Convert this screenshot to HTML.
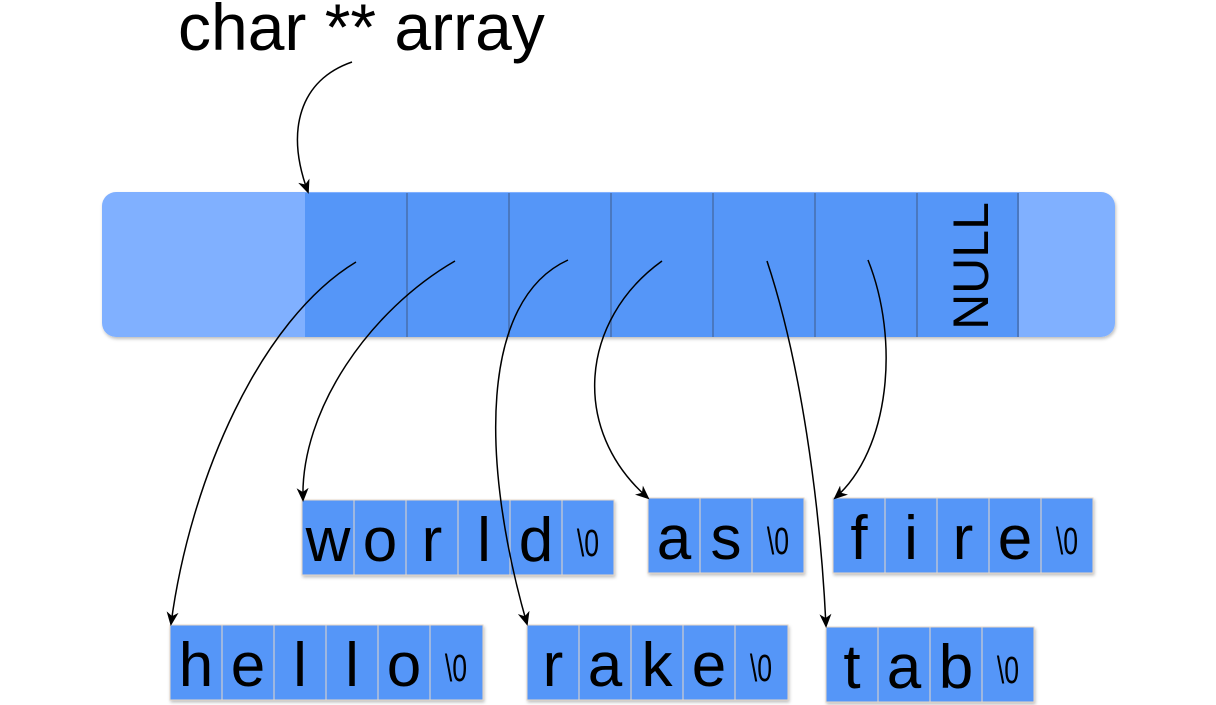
<!DOCTYPE html>
<html><head><meta charset="utf-8"><style>
html,body{margin:0;padding:0;background:#fff;width:1216px;height:705px;overflow:hidden}
svg text{font-family:"Liberation Sans",sans-serif;fill:#000}
.c{fill:#5596f8;stroke:#e8d8c8;stroke-width:1}
.l{font-size:62px;text-anchor:middle}
.z{font-size:38px;text-anchor:middle}
.a{fill:none;stroke:#000;stroke-width:1.5}
</style></head><body>
<svg width="1216" height="705" xmlns="http://www.w3.org/2000/svg">
<defs>
<marker id="m" markerWidth="14" markerHeight="12" refX="12" refY="6" orient="auto" markerUnits="userSpaceOnUse"><path d="M0,0 L14,6 L0,12 L4,6 z" fill="#000"/></marker>
<filter id="s" x="-5%" y="-5%" width="110%" height="120%"><feDropShadow dx="1" dy="2" stdDeviation="1.5" flood-color="#000" flood-opacity="0.25"/></filter>
</defs>
<text x="178" y="50" style="font-size:66px">char ** array</text>
<rect x="102" y="192" width="1013" height="145" rx="14" fill="#80b0ff" filter="url(#s)"/>
<rect x="305" y="193" width="713" height="144" fill="#5596f8"/>
<g stroke="#4a78c0" stroke-width="2">
<line x1="407" y1="193" x2="407" y2="337"/><line x1="509" y1="193" x2="509" y2="337"/><line x1="611" y1="193" x2="611" y2="337"/><line x1="713" y1="193" x2="713" y2="337"/><line x1="815" y1="193" x2="815" y2="337"/><line x1="917" y1="193" x2="917" y2="337"/><line x1="1018" y1="193" x2="1018" y2="337"/>
</g>
<text transform="translate(988,266) rotate(-90)" style="font-size:50px;text-anchor:middle">NULL</text>

<g filter="url(#s)">
<rect class="c" x="302" y="500" width="52" height="75"/><rect class="c" x="354" y="500" width="52" height="75"/><rect class="c" x="406" y="500" width="52" height="75"/><rect class="c" x="458" y="500" width="52" height="75"/><rect class="c" x="510" y="500" width="52" height="75"/><rect class="c" x="562" y="500" width="52" height="75"/>
<rect class="c" x="170" y="625" width="52" height="75"/><rect class="c" x="222" y="625" width="52" height="75"/><rect class="c" x="274" y="625" width="52" height="75"/><rect class="c" x="326" y="625" width="52" height="75"/><rect class="c" x="378" y="625" width="52" height="75"/><rect class="c" x="430" y="625" width="53" height="75"/>
<rect class="c" x="527" y="625" width="52" height="75"/><rect class="c" x="579" y="625" width="52" height="75"/><rect class="c" x="631" y="625" width="52" height="75"/><rect class="c" x="683" y="625" width="52" height="75"/><rect class="c" x="735" y="625" width="53" height="75"/>
<rect class="c" x="648" y="498" width="52" height="75"/><rect class="c" x="700" y="498" width="52" height="75"/><rect class="c" x="752" y="498" width="52" height="75"/>
<rect class="c" x="833" y="498" width="52" height="75"/><rect class="c" x="885" y="498" width="52" height="75"/><rect class="c" x="937" y="498" width="52" height="75"/><rect class="c" x="989" y="498" width="52" height="75"/><rect class="c" x="1041" y="498" width="52" height="75"/>
<rect class="c" x="826" y="627" width="52" height="75"/><rect class="c" x="878" y="627" width="52" height="75"/><rect class="c" x="930" y="627" width="52" height="75"/><rect class="c" x="982" y="627" width="52" height="75"/>
</g>

<g>
<text class="l" x="328" y="561">w</text><text class="l" x="380" y="561">o</text><text class="l" x="432" y="561">r</text><text class="l" x="484" y="561">l</text><text class="l" x="536" y="561">d</text>
<text class="l" x="196" y="686">h</text><text class="l" x="248" y="686">e</text><text class="l" x="300" y="686">l</text><text class="l" x="352" y="686">l</text><text class="l" x="404" y="686">o</text>
<text class="l" x="553" y="686">r</text><text class="l" x="605" y="686">a</text><text class="l" x="657" y="686">k</text><text class="l" x="709" y="686">e</text>
<text class="l" x="674" y="559">a</text><text class="l" x="726" y="559">s</text>
<text class="l" x="859" y="559">f</text><text class="l" x="911" y="559">i</text><text class="l" x="963" y="559">r</text><text class="l" x="1015" y="559">e</text>
<text class="l" x="852" y="688">t</text><text class="l" x="904" y="688">a</text><text class="l" x="956" y="688">b</text>
</g>
<g>
<text class="z" transform="translate(588,556) scale(0.7,1)">\0</text>
<text class="z" transform="translate(456,681) scale(0.7,1)">\0</text>
<text class="z" transform="translate(761,681) scale(0.7,1)">\0</text>
<text class="z" transform="translate(778,554) scale(0.7,1)">\0</text>
<text class="z" transform="translate(1067,554) scale(0.7,1)">\0</text>
<text class="z" transform="translate(1008,683) scale(0.7,1)">\0</text>
</g>

<path class="a" marker-end="url(#m)" d="M352,62 C300,80 285,130 308,192"/>
<path class="a" marker-end="url(#m)" d="M356,262 C260,320 190,480 171,624"/>
<path class="a" marker-end="url(#m)" d="M455,261 C370,310 300,410 303,500"/>
<path class="a" marker-end="url(#m)" d="M568,260 C480,300 480,460 527,624"/>
<path class="a" marker-end="url(#m)" d="M662,261 C580,320 570,430 648,498"/>
<path class="a" marker-end="url(#m)" d="M767,261 C800,360 820,500 826,626"/>
<path class="a" marker-end="url(#m)" d="M868,260 C900,340 890,450 835,498"/>
</svg>
</body></html>
